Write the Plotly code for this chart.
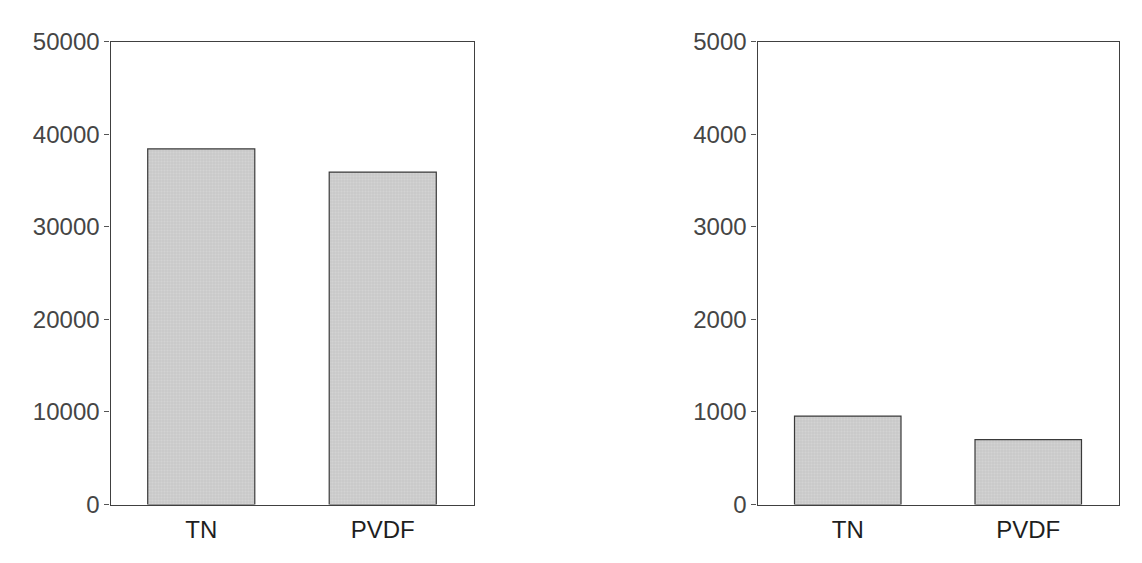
import plotly.graph_objects as go

categories = ["TN", "PVDF"]
left_values = [38400, 35900]
right_values = [955, 700]
left_ticks = [0, 10000, 20000, 30000, 40000, 50000]
right_ticks = [0, 1000, 2000, 3000, 4000, 5000]

fig = go.Figure()

bar_style = dict(
    width=0.59,
    marker=dict(
        color="#d0d0d0",
        line=dict(color="#3a3a3a", width=1.2),
        pattern=dict(shape=".", fgcolor="#ababab", bgcolor="#d8d8d8", size=3, solidity=0.5),
    ),
    showlegend=False,
)

fig.add_trace(go.Bar(x=categories, y=left_values, xaxis="x", yaxis="y", **bar_style))
fig.add_trace(go.Bar(x=categories, y=right_values, xaxis="x2", yaxis="y2", **bar_style))

font = dict(family="Liberation Sans, Arial, sans-serif", size=24, color="#454545")
axis_common = dict(
    showline=True, linecolor="#404040", linewidth=1.2, mirror=True,
    showgrid=False, zeroline=False, automargin=False,
)
xfont = dict(size=24, color="#1e1e1e")

W, H, OFF = 1142, 563, 7.5
ydom = [(H + OFF - 504) / H, (H + OFF - 41) / H]

fig.update_layout(
    width=W, height=H,
    margin=dict(l=0, r=0, t=0, b=0, pad=0),
    paper_bgcolor="white", plot_bgcolor="white",
    font=font,
    xaxis=dict(domain=[(110 - OFF) / W, (473 - OFF) / W], anchor="y", range=[-0.5, 1.5],
               ticks="", tickfont=xfont, ticklabelstandoff=4, **axis_common),
    yaxis=dict(domain=ydom, anchor="x", range=[0, 50000],
               tickvals=left_ticks, ticktext=[str(v) for v in left_ticks],
               ticks="outside", ticklen=5, tickcolor="#555555", **axis_common),
    xaxis2=dict(domain=[(757 - OFF) / W, (1118 - OFF) / W], anchor="y2", range=[-0.5, 1.5],
                ticks="", tickfont=xfont, ticklabelstandoff=4, **axis_common),
    yaxis2=dict(domain=ydom, anchor="x2", range=[0, 5000],
                tickvals=right_ticks, ticktext=[str(v) for v in right_ticks],
                ticks="outside", ticklen=5, tickcolor="#555555", **axis_common),
)

fig.write_html("out.html")
